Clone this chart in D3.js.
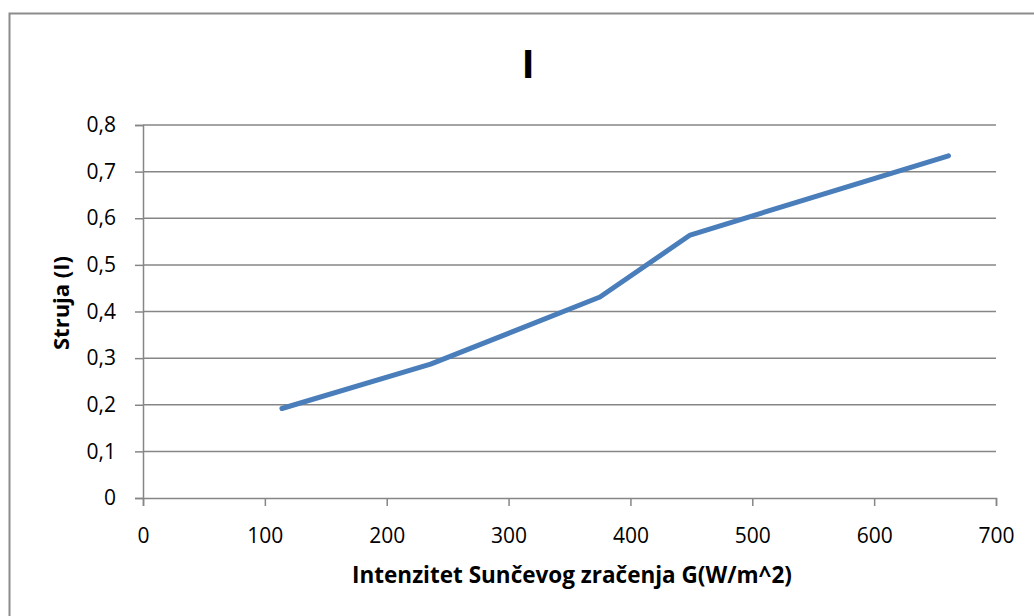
<!DOCTYPE html>
<html>
<head>
<meta charset="utf-8">
<script src="https://cdn.jsdelivr.net/npm/d3@7"></script>
<style>
  html, body { margin: 0; padding: 0; background: #fff; }
  svg { display: block; }
  text { font-family: "Open Sans", "Liberation Sans", sans-serif; fill: #000; }
</style>
</head>
<body>
<svg id="chart" width="1034" height="616"></svg>
<script>
// Irradiance G (W/m^2) and measured current I
const irradiance = [114, 236, 375, 449, 661];
const current = [0.192, 0.287, 0.431, 0.564, 0.734];

const xTicks = [0, 100, 200, 300, 400, 500, 600, 700];
const yTicks = [0, 0.1, 0.2, 0.3, 0.4, 0.5, 0.6, 0.7, 0.8];

const chartTitle = "I";
const xTitle = "Intenzitet Sunčevog zračenja G(W/m^2)";
const yTitle = "Struja (I)";

const svg = d3.select("#chart");
const plot = { left: 143, right: 996, top: 125, bottom: 498 };

const x = d3.scaleLinear().domain([0, 700]).range([plot.left, plot.right]);
const y = d3.scaleLinear().domain([0, 0.8]).range([plot.bottom, plot.top]);

const gridColor = "#868686";
const fmt = d => d === 0 ? "0" : d3.format(".1f")(d).replace(".", ",");

// outer chart frame (runs past the right and bottom edges)
svg.append("path")
  .attr("d", "M9.5,640 L9.5,13.5 L1060,13.5")
  .attr("fill", "none")
  .attr("stroke", "#8c8c8c")
  .attr("stroke-width", 2);

// horizontal gridlines
svg.append("g")
  .selectAll("line")
  .data(yTicks.filter(d => d > 0))
  .join("line")
  .attr("x1", plot.left).attr("x2", plot.right)
  .attr("y1", d => y(d)).attr("y2", d => y(d))
  .attr("stroke", gridColor).attr("stroke-width", 1.5);

// y axis
const yAxis = svg.append("g")
  .attr("transform", `translate(${plot.left},0)`)
  .call(d3.axisLeft(y).tickValues(yTicks).tickSize(8).tickPadding(19).tickFormat(fmt));
yAxis.select(".domain").attr("stroke", gridColor).attr("stroke-width", 1.5);
yAxis.selectAll(".tick line").attr("stroke", gridColor).attr("stroke-width", 1.5);
yAxis.selectAll(".tick text").attr("font-size", 21).attr("font-family", "Open Sans").attr("fill", "#000");

// x axis
const xAxis = svg.append("g")
  .attr("transform", `translate(0,${plot.bottom})`)
  .call(d3.axisBottom(x).tickValues(xTicks).tickSize(8).tickPadding(22)
    .tickFormat(d3.format("d")));
xAxis.select(".domain").attr("stroke", gridColor).attr("stroke-width", 1.5);
xAxis.selectAll(".tick line").attr("stroke", gridColor).attr("stroke-width", 1.5);
xAxis.selectAll(".tick text").attr("font-size", 21).attr("font-family", "Open Sans").attr("fill", "#000");

// data line
const line = d3.line().x((d, i) => x(irradiance[i])).y(d => y(d));
svg.append("path")
  .datum(current)
  .attr("d", line)
  .attr("fill", "none")
  .attr("stroke", "#4a7ebb")
  .attr("stroke-width", 5)
  .attr("stroke-linecap", "round")
  .attr("stroke-linejoin", "round");

// titles
svg.append("text")
  .attr("x", 528).attr("y", 78)
  .attr("text-anchor", "middle")
  .attr("font-size", 40).attr("font-weight", "bold")
  .attr("font-family", "Liberation Sans")
  .text(chartTitle);

svg.append("text")
  .attr("x", 572).attr("y", 583)
  .attr("text-anchor", "middle")
  .attr("font-size", 22.5).attr("font-weight", "bold")
  .text(xTitle);

svg.append("text")
  .attr("transform", "translate(69,303) rotate(-90)")
  .attr("text-anchor", "middle")
  .attr("font-size", 22).attr("font-weight", "bold")
  .text(yTitle);
</script>
</body>
</html>
